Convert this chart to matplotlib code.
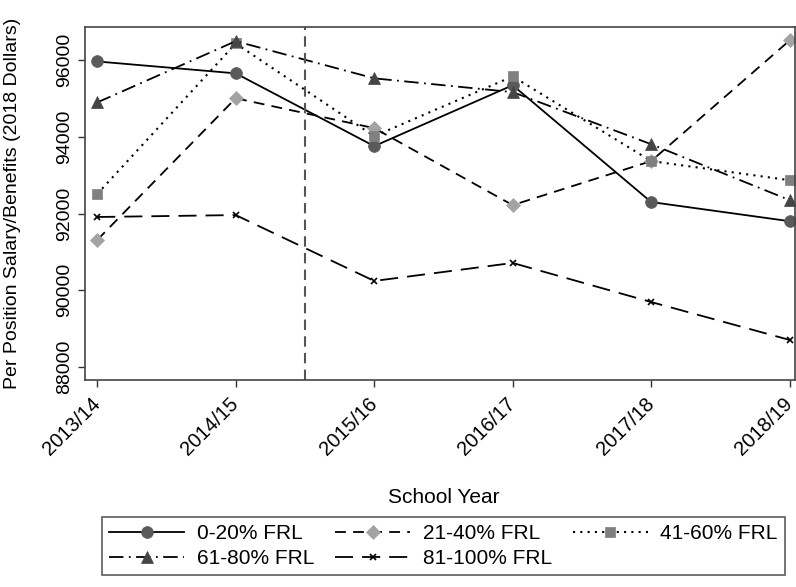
import matplotlib
matplotlib.use("Agg")
import matplotlib.pyplot as plt

plt.rcParams['font.family'] = ['Liberation Sans', 'DejaVu Sans']

years = ["2013/14", "2014/15", "2015/16", "2016/17", "2017/18", "2018/19"]
frl_0_20 = [95970, 95660, 93760, 95350, 92300, 91800]
frl_21_40 = [91310, 95010, 94230, 92220, 93370, 96520]
frl_41_60 = [92510, 96440, 94020, 95580, 93370, 92870]
frl_61_80 = [94900, 96500, 95530, 95170, 93810, 92350]
frl_81_100 = [91910, 91960, 90240, 90710, 89690, 88700]
labels = ["0-20% FRL", "21-40% FRL", "41-60% FRL", "61-80% FRL", "81-100% FRL"]
yticks = [88000, 90000, 92000, 94000, 96000]

fig = plt.figure(figsize=(7.96, 5.87), dpi=100)
ax = fig.add_axes([0.107, 0.353, 0.892, 0.601])
x = list(range(len(years)))

styles = [
    dict(data=frl_0_20, ls='-', marker='o', mfc='#5a5a5a', ms=8.5, lw=1.3),
    dict(data=frl_21_40, ls=(0, (6, 4)), marker='D', mfc='#a3a3a3', ms=7.5, lw=1.3),
    dict(data=frl_41_60, ls=(0, (1, 2.5)), marker='s', mfc='#808080', ms=7.5, lw=1.5),
    dict(data=frl_61_80, ls=(0, (8, 3, 1, 3)), marker='^', mfc='#454545', ms=9, lw=1.3),
    dict(data=frl_81_100, ls=(0, (10, 5)), marker='x', mfc='black', ms=5, lw=1.3),
]
handles = []
for st, lab in zip(styles, labels):
    mec = st['mfc'] if st['marker'] != 'x' else 'black'
    l, = ax.plot(x, st['data'], color='black', linestyle=st['ls'], linewidth=st['lw'],
                 marker=st['marker'], markerfacecolor=st['mfc'], markeredgecolor=mec,
                 markersize=st['ms'], markeredgewidth=1.2 if st['marker'] == 'x' else 0.5,
                 label=lab)
    handles.append(l)

ax.axvline(1.5, color='#555555', linestyle=(0, (5, 3)), linewidth=1.5)

ax.set_xlim(-0.087, 5.04)
ax.set_ylim(87660, 96870)
ax.set_xticks(x)
ax.set_xticklabels(years, rotation=45, ha='right', va='center', rotation_mode='anchor', fontsize=14.5)
ax.set_yticks(yticks)
ax.set_yticklabels([str(v) for v in yticks], rotation=90, va='center', fontsize=14)
ax.tick_params(axis='both', length=5, width=1, color='#333333')
ax.tick_params(axis='x', pad=10)
for s in ax.spines.values():
    s.set_color('#444444')
    s.set_linewidth(1.2)

ax.set_ylabel("Per Position Salary/Benefits (2018 Dollars)", fontsize=14)
ax.yaxis.set_label_coords(-0.09, 0.5)
fig.text(0.558, 0.153, "School Year", ha='center', va='center', fontsize=15)

order = [0, 3, 1, 4, 2]
leg = fig.legend(handles=[handles[i] for i in order], labels=[labels[i] for i in order],
                 loc='lower left', bbox_to_anchor=(0.115, 0.002, 0.884, 0.117),
                 mode='expand', ncol=3, fontsize=15, frameon=True, fancybox=False,
                 edgecolor='#333333', handlelength=3.6, borderpad=0.35, labelspacing=0.3,
                 columnspacing=1.2, handletextpad=0.6)
leg.get_frame().set_linewidth(1.2)

fig.savefig("out.png", dpi=100)
